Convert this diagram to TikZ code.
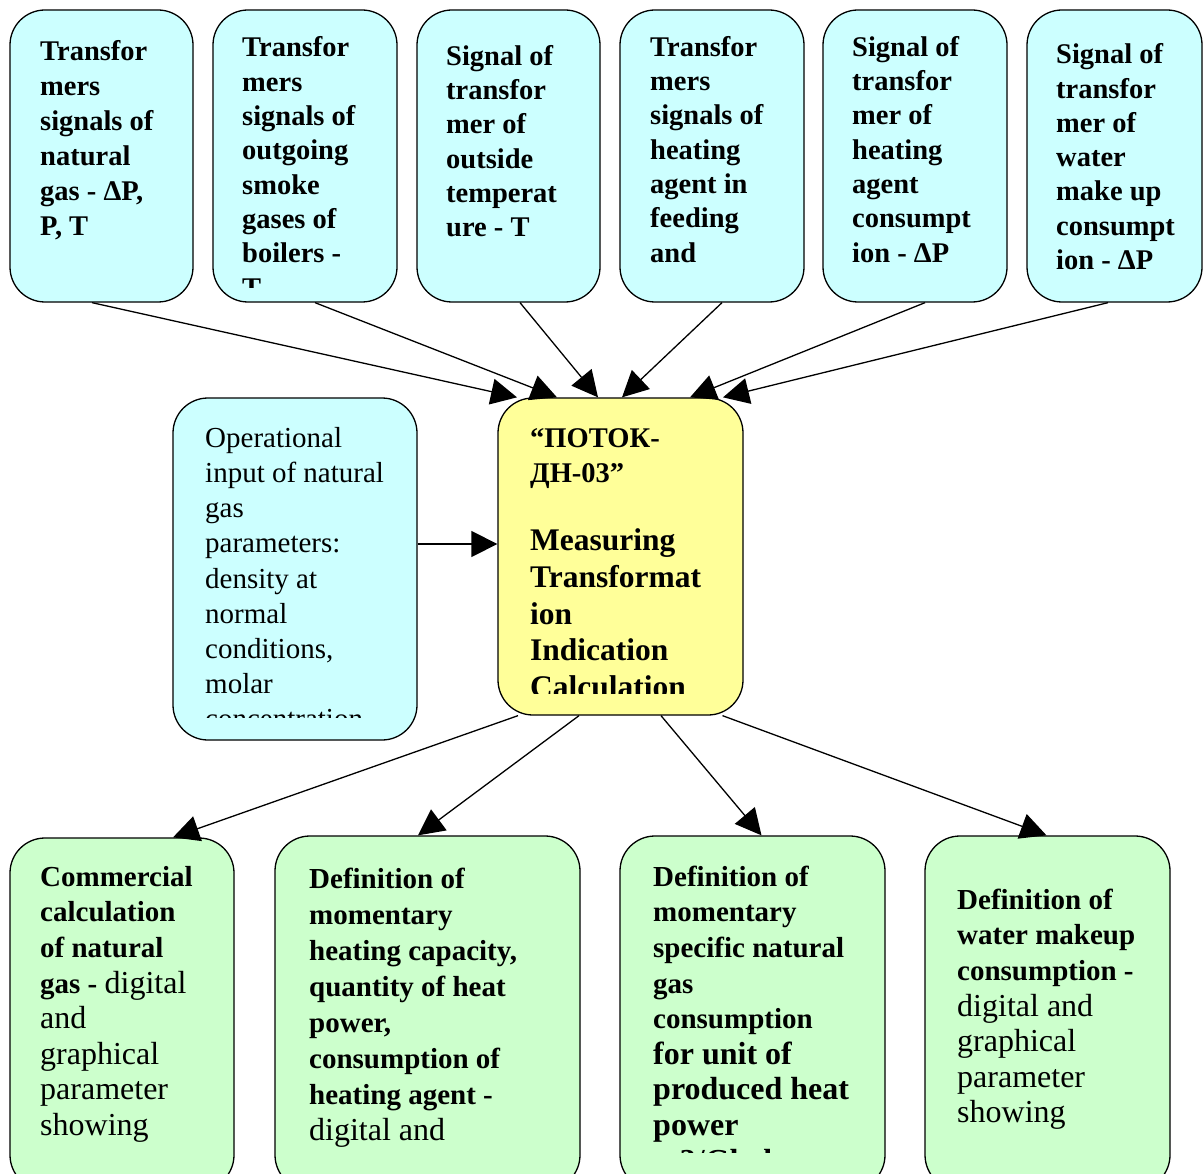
\documentclass[tikz,border=0pt]{standalone}
\usepackage{fontspec}
\setmainfont{Liberation Serif}
\usetikzlibrary{arrows.meta}

\definecolor{boxcyan}{HTML}{CCFFFF}
\definecolor{boxyellow}{HTML}{FFFF99}
\definecolor{boxgreen}{HTML}{CCFFCC}

\newcommand{\fl}{\rule{0pt}{24pt}}
\newcommand{\regtxt}[1]{{\mdseries\fontsize{32}{36}\selectfont #1}}
\newcommand{\largetxt}[1]{{\fontsize{32}{36}\selectfont #1}}

\tikzstyle{box}=[draw=black,line width=1.3pt,rounded corners=35pt,inner sep=0pt]
\tikzstyle{inbox}=[box,fill=boxcyan]
\tikzstyle{calcbox}=[box,fill=boxyellow]
\tikzstyle{outbox}=[box,fill=boxgreen]
\tikzstyle{txt}=[anchor=north west,inner sep=0pt,align=left]
\tikzstyle{toptxt}=[txt,font=\bfseries\fontsize{28.5}{34.3}\selectfont]
\tikzstyle{inptxt}=[txt,font=\fontsize{29}{35.2}\selectfont]
\tikzstyle{calctxt}=[txt,font=\bfseries\fontsize{28.5}{35}\selectfont]
\tikzstyle{bigtxt}=[txt,font=\bfseries\fontsize{31.5}{36.7}\selectfont]
\tikzstyle{outtxt}=[txt,font=\bfseries\fontsize{29}{35.6}\selectfont]
\tikzstyle{arr}=[line width=1.3pt,-{Triangle[length=26pt,width=26pt]}]

\begin{document}
\begin{tikzpicture}[x=1pt,y=-1pt]
  \useasboundingbox (0,0) rectangle (1204,1174);

  % input signals
  \node[inbox,minimum width=183pt,minimum height=292pt] (b1) at (101.5,156) {};
  \node[inbox,minimum width=184pt,minimum height=292pt] (b2) at (305,156) {};
  \node[inbox,minimum width=183pt,minimum height=292pt] (b3) at (508.5,156) {};
  \node[inbox,minimum width=184pt,minimum height=292pt] (b4) at (712,156) {};
  \node[inbox,minimum width=184pt,minimum height=292pt] (b5) at (915,156) {};
  \node[inbox,minimum width=175pt,minimum height=292pt] (b6) at (1114.5,156) {};
  \node[inbox,minimum width=244pt,minimum height=342pt] (inp) at (295,569) {};
  \node[calcbox,minimum width=245pt,minimum height=317pt] (calc) at (620.5,556.5) {};

  % results
  \node[outbox,minimum width=224pt,minimum height=352pt] (out1) at (122,1014) {};
  \node[outbox,minimum width=305pt,minimum height=354pt] (out2) at (427.5,1013) {};
  \node[outbox,minimum width=265pt,minimum height=354pt] (out3) at (752.5,1013) {};
  \node[outbox,minimum width=245pt,minimum height=354pt] (out4) at (1047.5,1013) {};

  \draw[arr] ([xshift=-9.5pt]b1.south) -- ([xshift=-103.5pt]calc.north);
  \draw[arr] ([xshift=10pt]b2.south) -- ([xshift=-63.5pt]calc.north);
  \draw[arr] ([xshift=11.5pt]b3.south) -- ([xshift=-22.5pt]calc.north);
  \draw[arr] ([xshift=10pt]b4.south) -- ([xshift=1.5pt]calc.north);
  \draw[arr] ([xshift=10pt]b5.south) -- ([xshift=69.5pt]calc.north);
  \draw[arr] ([xshift=-6.5pt]b6.south) -- ([xshift=102.5pt]calc.north);
  \draw[arr] ([yshift=25pt]inp.east) -- ([yshift=12.5pt]calc.west);
  \draw[arr] ([xshift=-102.5pt]calc.south) -- ([xshift=51pt]out1.north);
  \draw[arr] ([xshift=-41.5pt]calc.south) -- ([xshift=-9.5pt]out2.north);
  \draw[arr] ([xshift=40.5pt]calc.south) -- ([xshift=9pt]out3.north);
  \draw[arr] ([xshift=102pt]calc.south) -- ([xshift=-1pt]out4.north);

  \node[toptxt,font=\bfseries\fontsize{28.5}{35}\selectfont] (b1t) at (40,36) {\fl Transfor\\mers\\signals of\\natural\\gas - ΔP,\\P, T};
  \begin{scope}
    \clip (213,10) rectangle (397,287);
    \node[toptxt] (b2t) at (242,32.7) {\fl Transfor\\mers\\signals of\\outgoing\\smoke\\gases of\\boilers -\\T};
  \end{scope}
  \node[toptxt] (b3t) at (446,41) {\fl Signal of\\transfor\\mer of\\outside\\temperat\\ure - T};
  \node[toptxt] (b4t) at (650,32) {\fl Transfor\\mers\\signals of\\heating\\agent in\\feeding\\and};
  \node[toptxt] (b5t) at (852,32) {\fl Signal of\\transfor\\mer of\\heating\\agent\\consumpt\\ion - ΔP};
  \node[toptxt] (b6t) at (1056,39.5) {\fl Signal of\\transfor\\mer of\\water\\make up\\consumpt\\ion - ΔP};

  \begin{scope}
    \clip (173,398) rectangle (417,717);
    \node[inptxt] (inpt) at (205,423) {\fl Operational\\input of natural\\gas\\parameters:\\density at\\normal\\conditions,\\molar\\concentration};
  \end{scope}
  \node[calctxt] (calct) at (530,423) {\fl “ПОТОК-\\ДН-03”};
  \begin{scope}
    \clip (498,398) rectangle (743,693);
    \node[bigtxt] (calcb) at (530,526.5) {\fl Measuring\\Transformat\\ion\\Indication\\Calculation};
  \end{scope}

  \node[outtxt] (out1t) at (40,862) {\fl Commercial\\calculation\\of natural\\gas - \regtxt{digital}\\\regtxt{and}\\\regtxt{graphical}\\\regtxt{parameter}\\\regtxt{showing}};
  \node[outtxt,font=\bfseries\fontsize{29}{36.1}\selectfont] (out2t) at (309,864) {\fl Definition of\\momentary\\heating capacity,\\quantity of heat\\power,\\consumption of\\heating agent -\\\regtxt{digital and}};
  \begin{scope}
    \clip (620,836) rectangle (885,1152);
    \node[outtxt] (out3t) at (653,862) {\fl Definition of\\momentary\\specific natural\\gas\\consumption\\\largetxt{for unit of}\\\largetxt{produced heat}\\\largetxt{power}\\\largetxt{m3/Gkal}};
  \end{scope}
  \node[outtxt] (out4t) at (957,885) {\fl Definition of\\water makeup\\consumption -\\\regtxt{digital and}\\\regtxt{graphical}\\\regtxt{parameter}\\\regtxt{showing}};
\end{tikzpicture}
\end{document}
